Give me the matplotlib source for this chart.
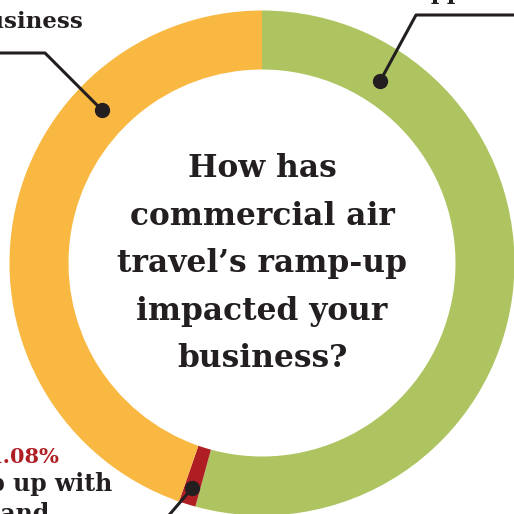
import numpy as np
import matplotlib
matplotlib.use("Agg")
import matplotlib.pyplot as plt

# Survey answers, clockwise from 12 o'clock
answers = ["It hasn't happened yet", "Struggling to keep up with demand", "Hurt my business"]
shares = [54.25, 1.08, 44.67]
colors = ["#ADC461", "#AE1E23", "#F9B842"]

title_lines = ["How has", "commercial air", "travel\u2019s ramp-up", "impacted your", "business?"]

INK = "#231F20"
SERIF = "DejaVu Serif"

W = H = 514
fig = plt.figure(figsize=(W / 100, H / 100), dpi=100)
ax = fig.add_axes([0, 0, 1, 1])

cx, cy = 262, H - 263
r_out, r_in = 252.5, 193.5
ax.pie(shares, colors=colors, center=(cx, cy), radius=r_out, startangle=90,
       counterclock=False, wedgeprops=dict(width=r_out - r_in, linewidth=0),
       frame=True)
ax.set_xlim(0, W)
ax.set_ylim(0, H)
ax.set_aspect("equal")
ax.axis("off")


def ring_point(angle_cw, r):
    """Point on the ring at a clockwise angle (degrees) from 12 o'clock."""
    a = np.deg2rad(angle_cw)
    return cx + r * np.sin(a), cy + r * np.cos(a)


# mid-angle of the small red slice
cum = np.cumsum([0] + shares)
red_mid = (cum[1] + cum[2]) / 2 / 100 * 360


def leader(p0, pts):
    xs = [p0[0]] + [p[0] for p in pts]
    ys = [p0[1]] + [p[1] for p in pts]
    ax.plot(xs, ys, color=INK, lw=2.2, solid_capstyle="butt", zorder=5)
    ax.plot(*p0, "o", ms=10, color=INK, zorder=6)


# green callout
g = ring_point(33, 217)
leader(g, [(416, H - 15), (W + 20, H - 15)])
# orange callout
o = ring_point(313.7, 221.5)
leader(o, [(45, H - 53), (-20, H - 53)])
# red callout
rp = ring_point(red_mid, 236)
leader(rp, [(170, H - 514), (150, H - 536)])

label_kw = dict(fontweight="bold", family=SERIF, va="baseline")

# labels
ax.text(83, H - 28, answers[2], ha="right", fontsize=16.5, color=INK, **label_kw)
ax.text(283, H + 1, "It hasn\u2019t happened", ha="left", fontsize=16.5,
        color=INK, **label_kw)
ax.text(-12, H - 463, f"{shares[1]:.2f}%", ha="left", fontsize=15,
        color=colors[1], **label_kw)
ax.text(-58, H - 491, "keep up with", ha="left", fontsize=17, color=INK, **label_kw)
ax.text(-56, H - 521, "demand", ha="left", fontsize=17, color=INK, **label_kw)

# centre question
baselines = [177, 225, 272, 320, 367]
for line, b in zip(title_lines, baselines):
    ax.text(cx, H - b, line, ha="center", fontsize=22.5, color=INK, **label_kw)

fig.savefig("out.png", dpi=100)
